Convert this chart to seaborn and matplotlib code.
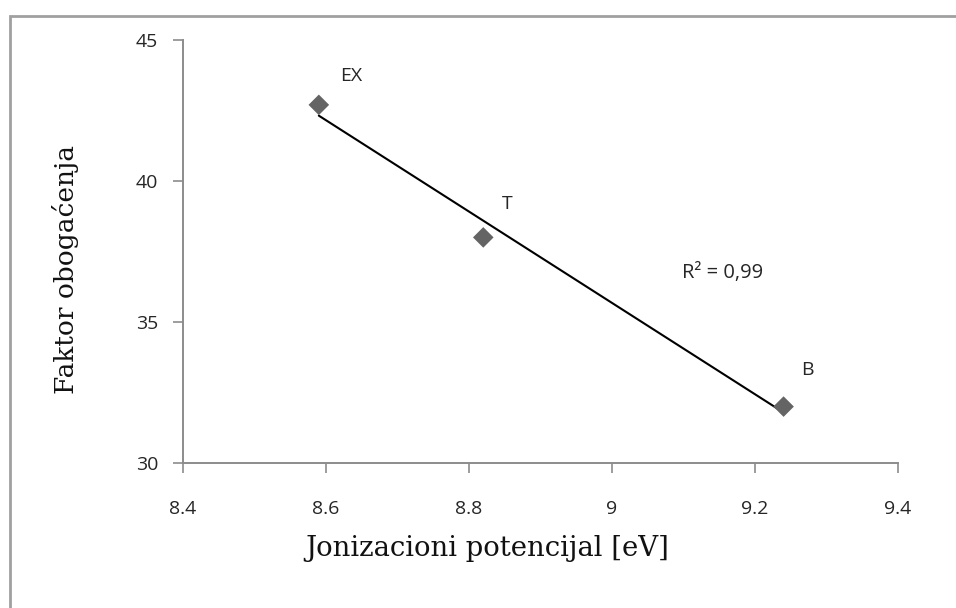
import matplotlib
matplotlib.use("Agg")
import matplotlib.pyplot as plt
import seaborn as sns
import pandas as pd
import numpy as np
from matplotlib.patches import Rectangle

# Data
labels = ["EX", "T", "B"]
ionization = [8.59, 8.82, 9.24]
enrichment = [42.7, 38.0, 32.0]
x_ticks = [8.4, 8.6, 8.8, 9.0, 9.2, 9.4]
x_ticklabels = ["8.4", "8.6", "8.8", "9", "9.2", "9.4"]
y_ticks = [30, 35, 40, 45]
r2_text = "R² = 0,99"

df = pd.DataFrame({"x": ionization, "y": enrichment, "label": labels})

sns.set_theme(style="white")
fig = plt.figure(figsize=(9.56, 6.08), dpi=100)
ax = fig.add_axes([0.1914, 0.2385, 0.9393 - 0.1914, 0.9342 - 0.2385])

axis_col = "#8c8c8c"
text_col = "#262626"
tick_font = "Open Sans"
title_font = "DejaVu Serif"

sns.regplot(data=df, x="x", y="y", ax=ax, ci=None, scatter=False, truncate=True,
            line_kws=dict(color="black", lw=1.5))
sns.scatterplot(data=df, x="x", y="y", ax=ax, marker="D", s=110, color="#646464",
                edgecolor="none", zorder=3)

offsets = {"EX": (32, 29), "T": (24, 33), "B": (24, 37)}
for lab, xv, yv in zip(labels, ionization, enrichment):
    ax.annotate(lab, (xv, yv), xytext=offsets[lab], textcoords="offset pixels",
                ha="center", va="center", fontsize=14, family=tick_font, color=text_col)

ax.text(9.155, 36.75, r2_text, ha="center", va="center", fontsize=14.5,
        family=tick_font, color=text_col)

ax.set_xlim(8.4, 9.4)
ax.set_ylim(30, 45)
ax.set_xticks(x_ticks)
ax.set_xticklabels(x_ticklabels)
ax.set_yticks(y_ticks)
for t in ax.get_xticklabels() + ax.get_yticklabels():
    t.set_family(tick_font)
    t.set_fontsize(14)
    t.set_color(text_col)

ax.tick_params(axis="both", which="both", direction="out", length=7, width=1.2,
               color=axis_col, bottom=True, left=True)
ax.tick_params(axis="x", pad=20)
ax.tick_params(axis="y", pad=11)
for side in ["top", "right"]:
    ax.spines[side].set_visible(False)
for side in ["left", "bottom"]:
    ax.spines[side].set_color(axis_col)
    ax.spines[side].set_linewidth(1.4)

ax.set_xlabel("Jonizacioni potencijal [eV]", family=title_font, fontsize=19.8,
              color="#111111")
ax.set_ylabel("Faktor obogaćenja", family=title_font, fontsize=19,
              color="#111111")
ax.xaxis.set_label_coords((487 - 183) / 715, (463 - 535) / 423)
ax.yaxis.set_label_coords((79 - 183) / 715, (463 - 270) / 423)

fig.add_artist(Rectangle((9.5 / 956, -0.1), 1.2, 1.0745, transform=fig.transFigure,
                         fill=False, edgecolor="#a0a0a0", lw=2))

fig.savefig("out.png", dpi=100)
